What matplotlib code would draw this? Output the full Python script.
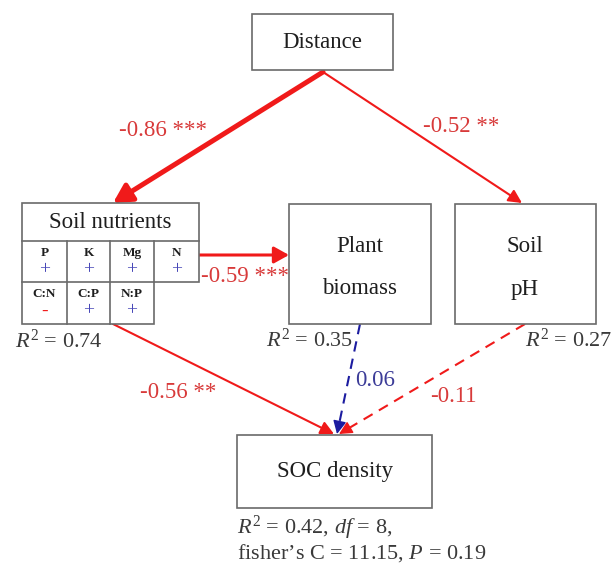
import matplotlib
matplotlib.use("Agg")
import matplotlib.pyplot as plt
from matplotlib.patches import Rectangle, Polygon, FancyArrowPatch
import numpy as np

plt.rcParams['font.family'] = ['Liberation Serif', 'DejaVu Serif']
plt.rcParams['mathtext.fontset'] = 'custom'
plt.rcParams['mathtext.rm'] = 'Liberation Serif'
plt.rcParams['mathtext.it'] = 'Liberation Serif:italic'

# ---------------- data ----------------
path_from = ["Distance", "Distance", "Soil nutrients", "Soil nutrients", "Plant biomass", "Soil pH"]
path_to = ["Soil nutrients", "Soil pH", "Plant biomass", "SOC density", "SOC density", "SOC density"]
path_coef = [-0.86, -0.52, -0.59, -0.56, 0.06, -0.11]
path_sig = ["***", "**", "***", "**", "", ""]
r2_nodes = ["Soil nutrients", "Plant biomass", "Soil pH", "SOC density"]
r2_values = [0.74, 0.35, 0.27, 0.42]
nutrients = ["P", "K", "Mg", "N", "C:N", "C:P", "N:P"]
nutrient_signs = ["+", "+", "+", "+", "-", "+", "+"]
model_df = 8
fisher_c = 11.15
model_p = 0.19

# ---------------- layout (pixel space) ----------------
W, H = 613, 568
fig = plt.figure(figsize=(W / 100, H / 100), dpi=100)
ax = fig.add_axes([0, 0, 1, 1])
ax.set_xlim(0, W)
ax.set_ylim(H, 0)
ax.axis('off')

RED = '#f01a1a'
RED_T = '#d83a3a'
BLUE = '#1c1ca0'
BLUE_T = '#3c3c98'
POS = '#4848b8'
EDGE = '#6a6a6a'
TXT = '#1e1e1e'
GRAY_T = '#3a3a3a'
FS = 16.5

boxes = {
    "Distance": (252, 14, 393, 70),
    "Plant biomass": (289, 204, 431, 324),
    "Soil pH": (455, 204, 596, 324),
    "SOC density": (237, 435, 432, 508),
}
for name, (x0, y0, x1, y1) in boxes.items():
    ax.add_patch(Rectangle((x0, y0), x1 - x0, y1 - y0, facecolor='white',
                           edgecolor=EDGE, lw=1.2, zorder=3))

ax.text(322, 42, "Distance", ha='center', va='center', fontsize=FS, color=TXT, zorder=4)
ax.text(360, 247, "Plant", ha='center', va='center', fontsize=FS, color=TXT, zorder=4)
ax.text(360, 289, "biomass", ha='center', va='center', fontsize=FS, color=TXT, zorder=4)
ax.text(525, 247, "Soil", ha='center', va='center', fontsize=FS, color=TXT, zorder=4)
ax.text(525, 289, "pH", ha='center', va='center', fontsize=FS, color=TXT, zorder=4)
ax.text(335, 472, "SOC density", ha='center', va='center', fontsize=FS, color=TXT, zorder=4)

# Soil nutrients table
cols = [22, 67, 110, 154, 199]
row_tops = [241, 282]
outline = [(22, 203), (199, 203), (199, 282), (154, 282), (154, 324), (22, 324)]
ax.add_patch(Polygon(outline, closed=True, facecolor='white', edgecolor=EDGE, lw=1.2, zorder=3))
ax.plot([22, 199], [241, 241], color=EDGE, lw=1.2, zorder=4)
ax.plot([22, 154], [282, 282], color=EDGE, lw=1.2, zorder=4)
for cx in cols[1:3]:
    ax.plot([cx, cx], [241, 324], color=EDGE, lw=1.2, zorder=4)
ax.plot([154, 154], [241, 282], color=EDGE, lw=1.2, zorder=4)
ax.text(110, 222, "Soil nutrients", ha='center', va='center', fontsize=FS, color=TXT, zorder=5)
for i, (lab, sg) in enumerate(zip(nutrients, nutrient_signs)):
    r, c = divmod(i, 4)
    xc = (cols[c] + cols[c + 1]) / 2
    ytop = row_tops[r]
    ax.text(xc, ytop + 12, lab, ha='center', va='center', fontsize=9.5,
            fontweight='bold', color=TXT, zorder=5)
    ax.text(xc, ytop + 29, sg, ha='center', va='center', fontsize=14,
            color=(POS if sg == "+" else RED), zorder=5)

# ---------------- paths ----------------
ends = [((323, 72), (113, 203)), ((323, 72), (522, 203)), ((199, 255), (289, 255)),
        ((113, 324), (334, 434)), ((360, 324), (337, 434)), ((525, 324), (339, 434))]
widths = [3.6, 1.5, 2.2, 1.5, 1.5, 1.5]
heads = [(11, 6), (8, 4), (9, 5), (8, 4), (8, 4), (8, 4)]
label_pos = [(163, 130), (461, 127), (245, 277), (178, 393), (375, 381), (453, 397)]

for k in range(len(path_coef)):
    (xa, ya), (xb, yb) = ends[k]
    sig = path_sig[k] != ""
    col = BLUE if path_coef[k] > 0 else RED
    tcol = BLUE_T if path_coef[k] > 0 else RED_T
    hl, hw = heads[k]
    if sig:
        arr = FancyArrowPatch((xa, ya), (xb, yb), arrowstyle=f'-|>,head_length={hl/10},head_width={hw/10}',
                              mutation_scale=10, color=col, lw=widths[k], shrinkA=0, shrinkB=0, zorder=2)
        ax.add_patch(arr)
    else:
        d = np.hypot(xb - xa, yb - ya)
        ux, uy = (xb - xa) / d, (yb - ya) / d
        ax.plot([xa, xb - ux * 6], [ya, yb - uy * 6], color=col, lw=widths[k],
                ls=(0, (5, 3.5)), zorder=2)
        arr = FancyArrowPatch((xb - ux * 10, yb - uy * 10), (xb, yb),
                              arrowstyle=f'-|>,head_length={hl/10},head_width={hw/10}',
                              mutation_scale=10, color=col, lw=1, shrinkA=0, shrinkB=0, zorder=2)
        ax.add_patch(arr)
    txt = f"{path_coef[k]:.2f}" + (f" {path_sig[k]}" if sig else "")
    ax.text(label_pos[k][0], label_pos[k][1], txt, ha='center', va='center',
            fontsize=FS, color=tcol, zorder=1)

# ---------------- R2 labels ----------------
r2_pos = {"Soil nutrients": (15, 341), "Plant biomass": (266, 340), "Soil pH": (525, 340)}
for name, val in zip(r2_nodes, r2_values):
    if name in r2_pos:
        x, y = r2_pos[name]
        ax.text(x, y, rf"$R^2$ = {val:.2f}", ha='left', va='center', fontsize=FS - 0.5,
                color=GRAY_T, zorder=5)
    else:
        ax.text(237, 528, rf"$R^2$ = {val:.2f}, $df$ = {model_df},", ha='left', va='center',
                fontsize=FS - 0.5, color=GRAY_T, zorder=5)
        ax.text(237, 553, f"fisher\u2019s C = {fisher_c:.2f}, $P$ = {model_p:.2f}", ha='left',
                va='center', fontsize=FS - 0.5, color=GRAY_T, zorder=5)

fig.savefig("out.png", dpi=100, facecolor='white')
